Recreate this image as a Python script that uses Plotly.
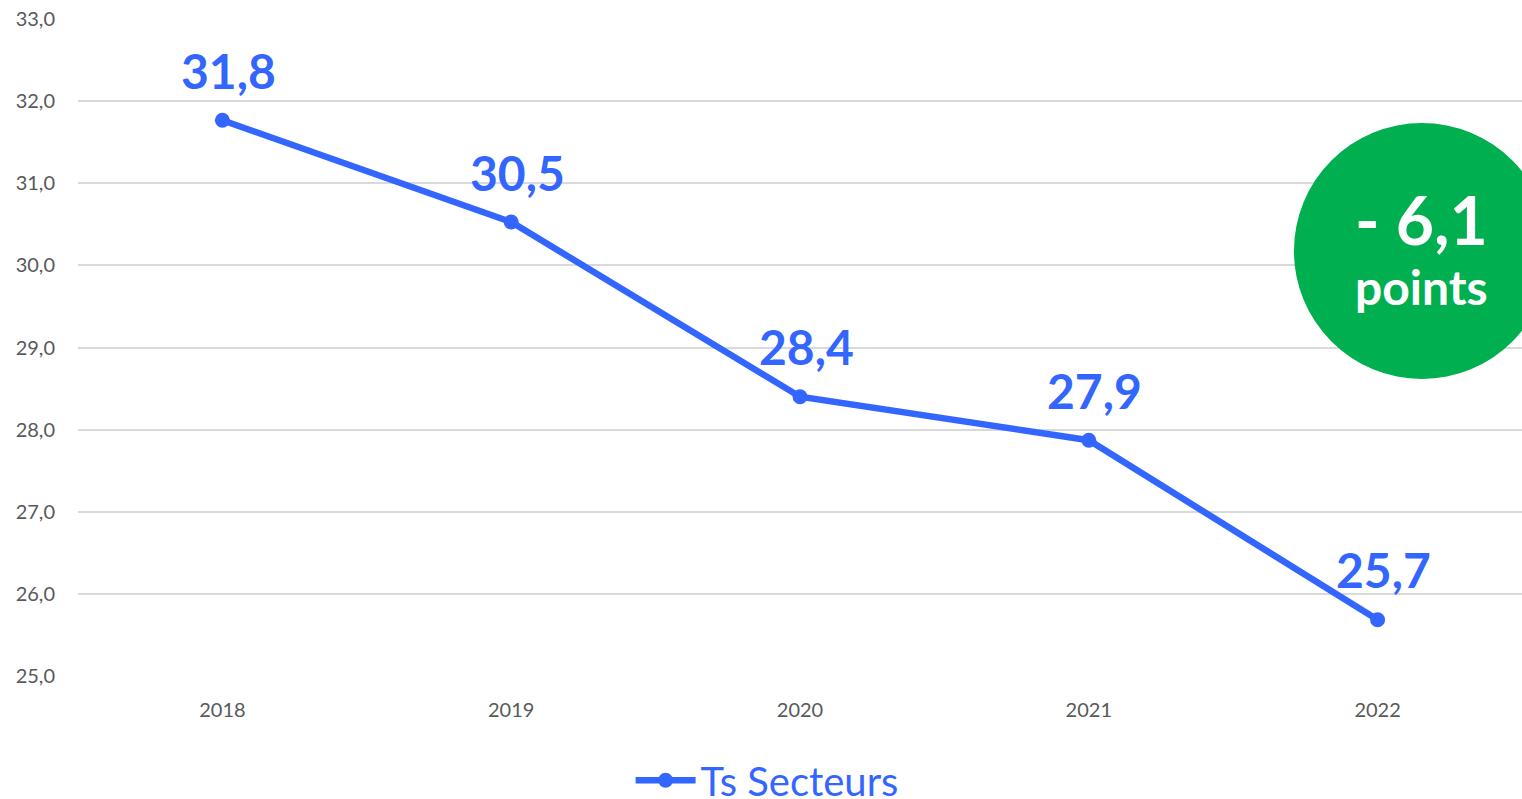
import plotly.graph_objects as go

years = ["2018", "2019", "2020", "2021", "2022"]
values = [31.77, 30.53, 28.40, 27.87, 25.68]
value_labels = ["31,8", "30,5", "28,4", "27,9", "25,7"]
series_name = "Ts Secteurs"
badge_value = "- 6,1"
badge_unit = "points"

BLUE = "#3366FF"
GREEN = "#00AF50"
FONT = "Lato"

fig = go.Figure()
fig.add_trace(go.Scatter(
    x=years, y=values, mode="lines+markers", name=series_name,
    line=dict(color=BLUE, width=6.5),
    marker=dict(color=BLUE, size=15),
    showlegend=True,
))

for i, (v, lab) in enumerate(zip(values, value_labels)):
    fig.add_annotation(x=i, y=v, text=f"<b>{lab}</b>", showarrow=False,
                       xanchor="center", yanchor="middle",
                       xshift=6, yshift=50,
                       font=dict(family=FONT, size=48, color=BLUE))

# green badge
bx, by = 0.9307, 0.6469
fig.add_shape(type="circle", xref="paper", yref="paper",
              xsizemode="pixel", ysizemode="pixel",
              xanchor=bx, yanchor=by,
              x0=-128, x1=128, y0=-128, y1=128,
              fillcolor=GREEN, line=dict(width=0), layer="above")
fig.add_annotation(xref="paper", yref="paper", x=bx, y=by,
                   xanchor="center", yanchor="middle",
                   text=f"<b>{badge_value}</b>", showarrow=False,
                   yshift=31, xshift=0,
                   font=dict(family=FONT, size=66, color="white"))
fig.add_annotation(xref="paper", yref="paper", x=bx, y=by,
                   xanchor="center", yanchor="middle",
                   text=f"<b>{badge_unit}</b>", showarrow=False,
                   yshift=-36, xshift=0,
                   font=dict(family=FONT, size=48, color="white"))

fig.update_layout(
    width=1522, height=799,
    margin=dict(l=78, r=0, t=19, b=123),
    paper_bgcolor="white", plot_bgcolor="white",
    separators=", ",
    font=dict(family=FONT, color="#595959"),
    legend=dict(orientation="h", xref="container", yref="container",
                x=0.504, xanchor="center", y=0.0235, yanchor="middle",
                font=dict(family=FONT, size=40, color=BLUE), itemwidth=60),
    xaxis=dict(type="category", range=[-0.5, 4.5], showgrid=False, showline=False,
               zeroline=False, ticks="", tickfont=dict(size=20, color="#595959"),
               ticklabelstandoff=20),
    yaxis=dict(range=[24.995, 33.005], tickvals=[25, 26, 27, 28, 29, 30, 31, 32, 33],
               tickformat=".1f", showgrid=True,
               gridcolor="#D9D9D9", gridwidth=1.5, zeroline=False, showline=False,
               ticks="", tickfont=dict(size=20, color="#595959"), ticklabelstandoff=22),
)

fig.write_html("out.html", config={"displayModeBar": False},
               post_script="document.body.style.margin='0';document.body.style.overflow='hidden';")
